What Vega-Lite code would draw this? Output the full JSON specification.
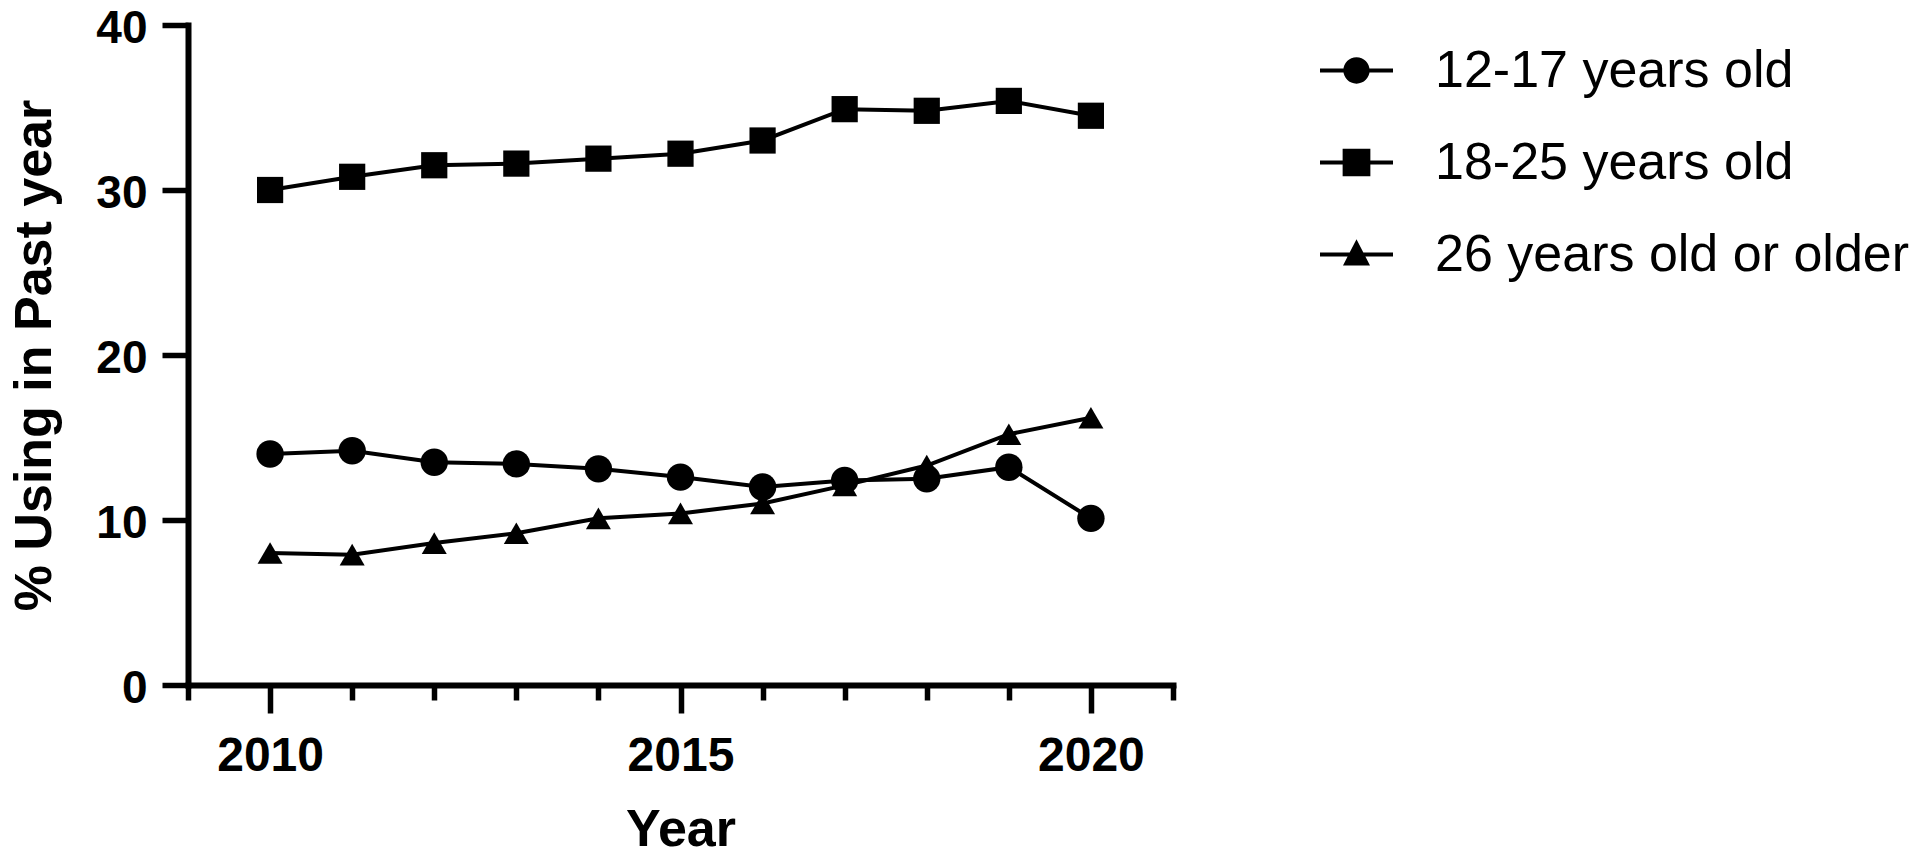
{
  "$schema": "https://vega.github.io/schema/vega-lite/v6.json",
  "width": 985,
  "height": 660,
  "autosize": {"type": "none"},
  "padding": {"left": 188, "top": 25, "right": 747, "bottom": 172},
  "background": "white",
  "config": {
    "view": {"stroke": null},
    "font": "Liberation Sans",
    "axis": {"grid": false, "domainColor": "black", "tickColor": "black", "labelColor": "black", "titleColor": "black", "domainCap": "square"}
  },
  "data": {
    "values": [
      {"year": 2010, "group": "12-17 years old", "value": 14.0},
      {"year": 2011, "group": "12-17 years old", "value": 14.2},
      {"year": 2012, "group": "12-17 years old", "value": 13.5},
      {"year": 2013, "group": "12-17 years old", "value": 13.4},
      {"year": 2014, "group": "12-17 years old", "value": 13.1},
      {"year": 2015, "group": "12-17 years old", "value": 12.6},
      {"year": 2016, "group": "12-17 years old", "value": 12.0},
      {"year": 2017, "group": "12-17 years old", "value": 12.4},
      {"year": 2018, "group": "12-17 years old", "value": 12.5},
      {"year": 2019, "group": "12-17 years old", "value": 13.2},
      {"year": 2020, "group": "12-17 years old", "value": 10.1},
      {"year": 2010, "group": "18-25 years old", "value": 30.0},
      {"year": 2011, "group": "18-25 years old", "value": 30.8},
      {"year": 2012, "group": "18-25 years old", "value": 31.5},
      {"year": 2013, "group": "18-25 years old", "value": 31.6},
      {"year": 2014, "group": "18-25 years old", "value": 31.9},
      {"year": 2015, "group": "18-25 years old", "value": 32.2},
      {"year": 2016, "group": "18-25 years old", "value": 33.0},
      {"year": 2017, "group": "18-25 years old", "value": 34.9},
      {"year": 2018, "group": "18-25 years old", "value": 34.8},
      {"year": 2019, "group": "18-25 years old", "value": 35.4},
      {"year": 2020, "group": "18-25 years old", "value": 34.5},
      {"year": 2010, "group": "26 years old or older", "value": 8.0},
      {"year": 2011, "group": "26 years old or older", "value": 7.9},
      {"year": 2012, "group": "26 years old or older", "value": 8.6},
      {"year": 2013, "group": "26 years old or older", "value": 9.2},
      {"year": 2014, "group": "26 years old or older", "value": 10.1},
      {"year": 2015, "group": "26 years old or older", "value": 10.4},
      {"year": 2016, "group": "26 years old or older", "value": 11.0},
      {"year": 2017, "group": "26 years old or older", "value": 12.1},
      {"year": 2018, "group": "26 years old or older", "value": 13.3},
      {"year": 2019, "group": "26 years old or older", "value": 15.2},
      {"year": 2020, "group": "26 years old or older", "value": 16.2}
    ]
  },
  "encoding": {
    "x": {
      "field": "year",
      "type": "quantitative",
      "scale": {"domain": [2009, 2021], "nice": false, "zero": false},
      "axis": {
        "values": [2009, 2010, 2011, 2012, 2013, 2014, 2015, 2016, 2017, 2018, 2019, 2020, 2021],
        "format": "d",
        "labelExpr": "datum.value % 5 === 0 ? datum.label : ''",
        "tickSize": {"condition": {"test": "datum.value % 5 === 0", "value": 28}, "value": 15},
        "tickWidth": 5.5,
        "domainWidth": 6,
        "labelFontSize": 48,
        "labelFontWeight": "bold",
        "labelBaseline": "alphabetic",
        "labelPadding": 57,
        "labelOverlap": false,
        "labelFlush": false,
        "title": "Year",
        "titleFontSize": 52,
        "titleFontWeight": "bold",
        "titleX": 492.5,
        "titleY": 171,
        "titleBaseline": "bottom",
        "titleAlign": "center"
      }
    },
    "y": {
      "field": "value",
      "type": "quantitative",
      "scale": {"domain": [0, 40], "nice": false},
      "axis": {
        "values": [0, 10, 20, 30, 40],
        "tickSize": 26,
        "tickWidth": 5.5,
        "domainWidth": 6,
        "labelFontSize": 46,
        "labelFontWeight": "bold",
        "labelPadding": 15,
        "labelOffset": 3,
        "title": "% Using in Past year",
        "titleFontSize": 52,
        "titleFontWeight": "bold",
        "titleX": -138,
        "titleY": 330,
        "titleAngle": 270,
        "titleBaseline": "alphabetic",
        "titleAlign": "center"
      }
    }
  },
  "layer": [
    {
      "mark": {"type": "line", "color": "black", "strokeWidth": 4},
      "encoding": {"detail": {"field": "group", "type": "nominal"}}
    },
    {
      "mark": {"type": "point", "filled": true, "color": "black", "opacity": 1},
      "encoding": {
        "shape": {
          "field": "group", "type": "nominal",
          "scale": {"domain": ["12-17 years old", "18-25 years old", "26 years old or older"], "range": ["circle", "square", "triangle-up"]},
          "legend": null
        },
        "size": {
          "field": "group", "type": "nominal",
          "scale": {"domain": ["12-17 years old", "18-25 years old", "26 years old or older"], "range": [750, 625, 750]},
          "legend": null
        }
      }
    },
    {
      "mark": {"type": "point", "filled": true, "color": "black", "opacity": 0},
      "encoding": {
        "shape": {
          "field": "group", "type": "nominal",
          "scale": {
            "domain": ["12-17 years old", "18-25 years old", "26 years old or older"],
            "range": [
              "M-1,-0.055H1V0.055H-1Z M-0.36,0A0.36,0.36 0 1,1 0.36,0A0.36,0.36 0 1,1 -0.36,0Z",
              "M-1,-0.055H1V0.055H-1Z M-0.38,-0.38H0.38V0.38H-0.38Z",
              "M-1,-0.055H1V0.055H-1Z M0,-0.42L0.37,0.3H-0.37Z"
            ]
          },
          "legend": {
            "title": null,
            "orient": "none",
            "legendX": 1132,
            "legendY": 9,
            "padding": 0,
            "symbolSize": 5329,
            "symbolFillColor": "black",
            "symbolStrokeColor": "black",
            "symbolStrokeWidth": 0,
            "symbolOpacity": 1,
            "labelFontSize": 52,
            "labelFont": "Liberation Sans",
            "labelColor": "black",
            "labelOffset": 42,
            "labelLimit": 0,
            "rowPadding": 29
          }
        }
      }
    }
  ],
  "resolve": {"scale": {"shape": "independent"}, "legend": {"shape": "independent"}}
}
